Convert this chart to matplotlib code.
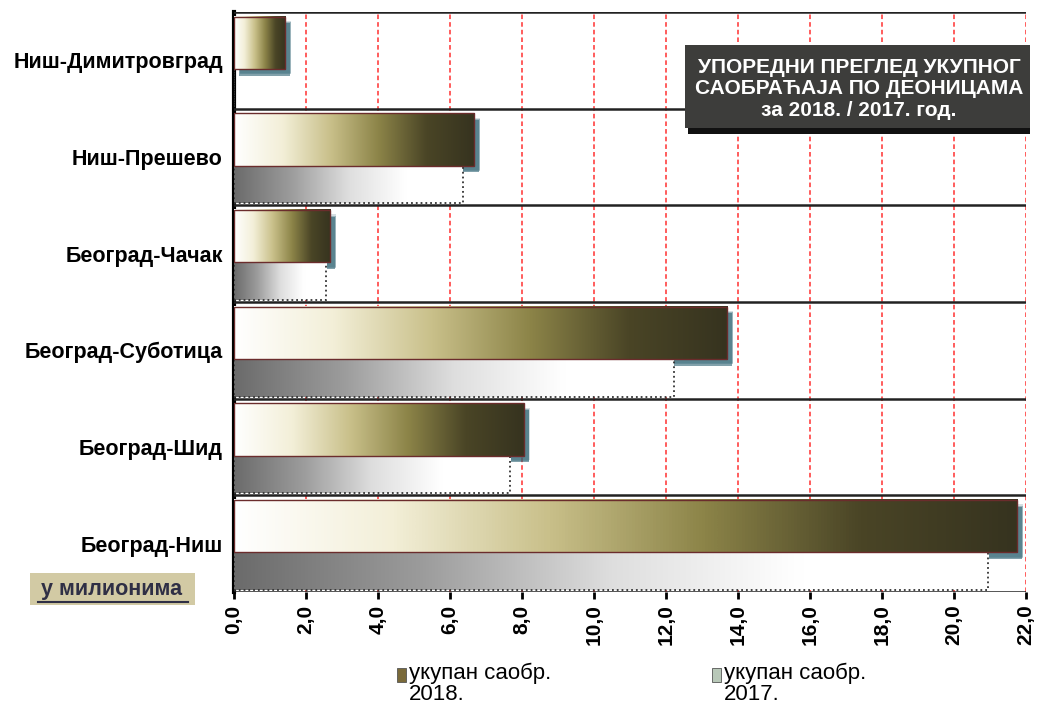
import numpy as np
import matplotlib.pyplot as plt
from matplotlib.patches import Rectangle
from matplotlib.colors import LinearSegmentedColormap

# Деонице (одоздо нагоре) и вредности у милионима
deonice = ['Београд-Ниш', 'Београд-Шид', 'Београд-Суботица',
           'Београд-Чачак', 'Ниш-Прешево', 'Ниш-Димитровград']
saobr_2018 = [21.75, 8.05, 13.7, 2.67, 6.67, 1.42]
saobr_2017 = [20.95, 7.67, 12.22, 2.56, 6.36, 0.0]
x_ticks = np.arange(0, 23, 2)

plt.rcParams['font.family'] = ['Liberation Sans', 'DejaVu Sans']

fig = plt.figure(figsize=(10.39, 7.14), dpi=100)
ax = fig.add_axes([0.2252, 0.1709, 0.7623, 0.8123])

cmap18 = LinearSegmentedColormap.from_list(
    'g18', ['#ffffff', '#f3efd8', '#c9c08a', '#8c8448', '#4a4526', '#36331f'])
cmap17 = LinearSegmentedColormap.from_list(
    'g17', ['#6b6b6b', '#9c9c9c', '#dedede', '#ffffff', '#ffffff'])
grad = np.linspace(0, 1, 256).reshape(1, -1)

y = np.arange(len(deonice))
b18 = ax.barh(y + 0.18, saobr_2018, height=0.54, facecolor='none',
              edgecolor='#6b2c2c', linewidth=1.0, zorder=5)
b17 = ax.barh(y - 0.285, saobr_2017, height=0.39, facecolor='none',
              edgecolor='#333333', linewidth=1.3, linestyle=':', zorder=4)

for bar in b18:
    x0, y0, w, h = bar.get_x(), bar.get_y(), bar.get_width(), bar.get_height()
    if w <= 0:
        continue
    # сенка
    for k, a in enumerate([0.2, 0.35, 0.6]):
        d = 0.06 * (3 - k)
        ax.add_patch(Rectangle((x0 + 0.12 + d * 0.3, y0 - 0.08 + d * 0.2),
                               w, h, facecolor='#2e6373', alpha=a,
                               edgecolor='none', zorder=2))
    ax.imshow(grad, cmap=cmap18, aspect='auto', extent=[x0, x0 + w, y0, y0 + h],
              zorder=4.5, interpolation='bicubic')

for bar in b17:
    x0, y0, w, h = bar.get_x(), bar.get_y(), bar.get_width(), bar.get_height()
    if w <= 0:
        continue
    ax.imshow(grad, cmap=cmap17, aspect='auto', extent=[x0, x0 + w, y0, y0 + h],
              zorder=3, interpolation='bicubic')

ax.set_xlim(0, 22)
ax.set_ylim(-0.5, len(deonice) - 0.5)

# мрежа
for xv in x_ticks[1:]:
    ax.axvline(xv, color='#ff3030', linestyle=(0, (3, 2)), linewidth=1.1, zorder=1)
for yv in np.arange(-0.5, len(deonice), 1.0):
    ax.axhline(yv, color='#222222', linewidth=1.8, zorder=6)

ax.set_xticks(x_ticks)
ax.set_xticklabels([f'{v:.1f}'.replace('.', ',') for v in x_ticks],
                   rotation=90, fontsize=15, fontweight='bold')
ax.set_yticks(y)
ax.set_yticklabels(deonice, fontsize=15.5, fontweight='bold')
ax.tick_params(axis='y', length=0, pad=8)
ax.tick_params(axis='x', length=5, width=2, pad=4)
for s in ['top', 'right', 'bottom']:
    ax.spines[s].set_visible(False)
ax.spines['left'].set_linewidth(3)

# наслов у кутији
fig.patches.append(Rectangle((688 / 1039, 1 - 134 / 714), 342 / 1039, 8 / 714,
                             transform=fig.transFigure, facecolor='#111111', zorder=7))
fig.patches.append(Rectangle((685 / 1039, 1 - 128 / 714), 345 / 1039, 83 / 714,
                             transform=fig.transFigure, facecolor='#3d3d3b', zorder=8))
fig.text(859 / 1039, 1 - 89 / 714,
         'УПОРЕДНИ ПРЕГЛЕД УКУПНОГ\nСАОБРАЋАЈА ПО ДЕОНИЦАМА\nза 2018. / 2017. год.',
         ha='center', va='center', color='white', fontsize=15,
         fontweight='bold', linespacing=1.15, zorder=9)

# у милионима
fig.patches.append(Rectangle((30 / 1039, 1 - 605 / 714), 165 / 1039, 32 / 714,
                             transform=fig.transFigure, facecolor='#d2caa4', zorder=1))
fig.text(112 / 1039, 1 - 590 / 714, 'у милионима', ha='center', va='center',
         fontsize=15.5, fontweight='bold', color='#2f2f45')
fig.add_artist(plt.Line2D([38 / 1039, 188 / 1039], [1 - 602 / 714, 1 - 602 / 714],
                          color='#2f2f45', linewidth=1.5, transform=fig.transFigure))

# легенда
leg = [('#7a6a3a', 'укупан саобр.\n2018.', 397), ('#b8c8b8', 'укупан саобр.\n2017.', 712)]
for col, txt, px in leg:
    fig.patches.append(Rectangle((px / 1039, 1 - 682 / 714), 9 / 1039, 14 / 714,
                                 transform=fig.transFigure, facecolor=col,
                                 edgecolor='#555555', linewidth=0.6))
    fig.text((px + 12) / 1039, 1 - 663 / 714, txt, ha='left', va='top',
             fontsize=16, linespacing=1.0)

fig.savefig('out.png', dpi=100)
